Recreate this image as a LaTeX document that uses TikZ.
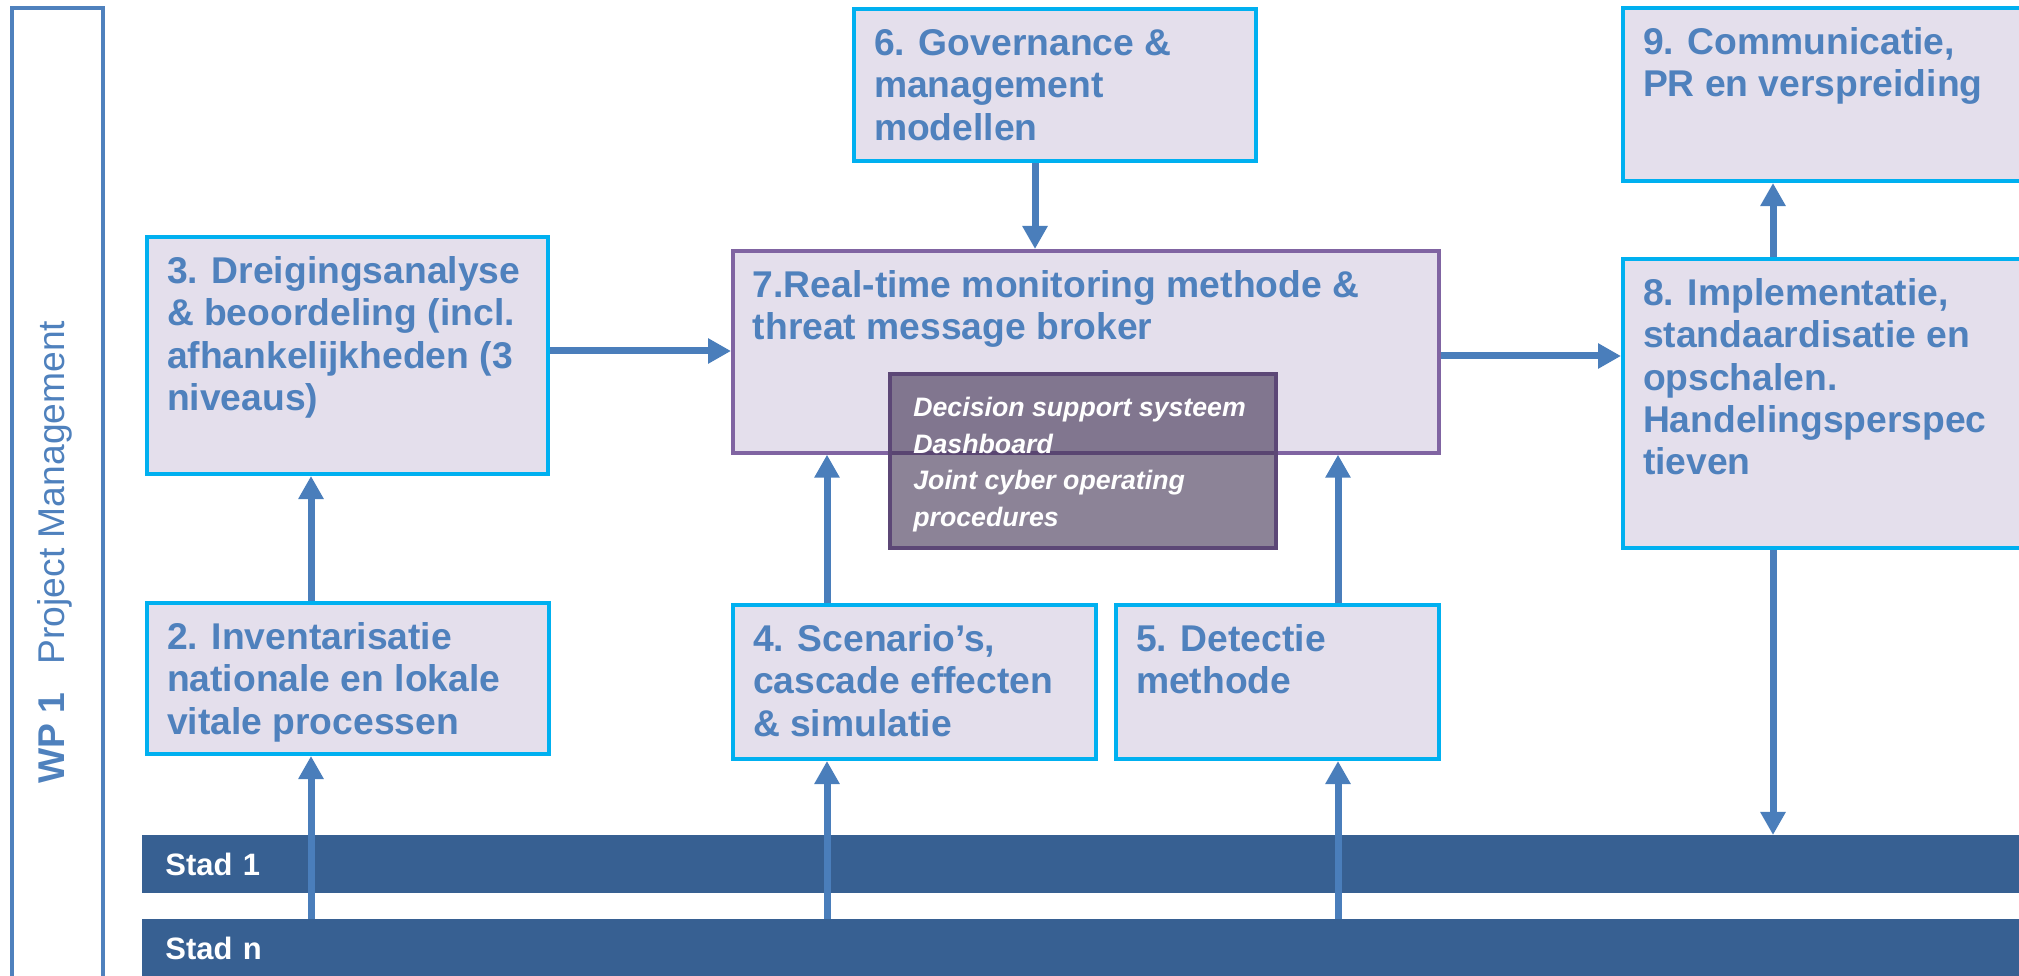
\documentclass[tikz,border=0pt]{standalone}
\usepackage{fontspec}
\setmainfont{Liberation Sans}
\usetikzlibrary{arrows.meta}

\definecolor{txtblue}{HTML}{4F81BD}
\definecolor{arrowblue}{HTML}{4A7EBB}
\definecolor{boxfill}{HTML}{E4DFEC}
\definecolor{cyanline}{HTML}{00B0F0}
\definecolor{purpleline}{HTML}{8064A2}
\definecolor{dssfill}{HTML}{3F3151}
\definecolor{dssline}{HTML}{5C4776}
\definecolor{stadblue}{HTML}{376092}

\newcommand{\boxtext}[3]{\parbox[c][#2][t]{#1}{\raggedright\strut#3}}

\begin{document}
\begin{tikzpicture}[x=0.015cm, y=-0.015cm, every node/.style={anchor=north west},
        wpbox/.style={draw=cyanline, line width=0.06cm, fill=boxfill,
                inner xsep=0.3cm, inner ysep=0.25cm, text=txtblue,
                font=\fontsize{15.9}{18.1}\selectfont\bfseries},
        rtbox/.style={wpbox, draw=purpleline, line width=0.055cm},
        dssbox/.style={draw=dssline, line width=0.06cm, fill=dssfill, fill opacity=0.6,
                text opacity=1, text=white, inner xsep=0.35cm, inner ysep=0.25cm,
                font=\fontsize{11.4}{15.7}\selectfont\bfseries\itshape},
        stadbar/.style={fill=stadblue, inner xsep=0.345cm, inner ysep=0, minimum height=0.87cm,
                text width=28.08cm, align=left, text=white,
                font=\fontsize{13.2}{15}\selectfont\bfseries},
        wpframe/.style={draw=txtblue, line width=0.06cm, minimum width=1.365cm,
                minimum height=15cm, inner sep=0},
        flow/.style={draw=arrowblue, line width=0.105cm, -{Triangle[length=0.345cm, width=0.36cm]}}]
    \clip (0,0) rectangle (2019,976);

    % work package frame
    \node[wpframe] (wp) at (10,6) {};
    \node[anchor=center, rotate=90, text=txtblue, font=\fontsize{15.9}{18}\selectfont] (wptext) at (55,552)
        {\textbf{WP 1}\hspace{0.75em}Project Management};

    % cities
    \node[stadbar] (stad1) at (142,835) {Stad 1};
    \node[stadbar] (stadn) at (142,919) {Stad n};

    % work packages
    \node[wpbox] (n2) at (145,601) {\boxtext{5.43cm}{1.765cm}{2. Inventarisatie\\nationale en lokale\\vitale processen}};
    \node[wpbox] (n3) at (145,235) {\boxtext{5.415cm}{3.055cm}{3. Dreigingsanalyse\\\& beoordeling (incl.\\afhankelijkheden (3\\niveaus)}};
    \node[wpbox] (n4) at (731,603) {\boxtext{4.845cm}{1.81cm}{4. Scenario’s,\\cascade effecten\\\& simulatie}};
    \node[wpbox] (n5) at (1114,603) {\boxtext{4.245cm}{1.81cm}{5. Detectie\\methode}};
    \node[wpbox] (n6) at (852,7) {\boxtext{5.43cm}{1.78cm}{6. Governance \&\\management\\modellen}};
    \node[rtbox] (n7) at (731,249) {\boxtext{9.99cm}{2.53cm}{7.Real-time monitoring methode \&\\threat message broker}};
    \node[wpbox] (n8) at (1621,257) {\boxtext{5.985cm}{3.835cm}{8. Implementatie,\\standaardisatie en\\opschalen.\\Handelingsperspec\\tieven}};
    \node[wpbox] (n9) at (1621,6) {\boxtext{5.985cm}{2.095cm}{9. Communicatie,\\PR en verspreiding}};
    \node[dssbox] (dss) at (888,372) {\boxtext{5.09cm}{2.11cm}{Decision support systeem\\Dashboard\\Joint cyber operating\\procedures}};

    % arrow lanes
    \coordinate (colA) at (311,0);
    \coordinate (colB) at (827,0);
    \coordinate (colC) at (1338,0);
    \coordinate (colD) at (1035,0);
    \coordinate (colE) at (1773,0);
    \coordinate (rowA) at (0,351);
    \coordinate (rowB) at (0,356);

    \draw[flow] (stadn.north -| colA) -- (n2.south -| colA);
    \draw[flow] (n2.north -| colA) -- (n3.south -| colA);
    \draw[flow] (stadn.north -| colB) -- (n4.south -| colB);
    \draw[flow] (n4.north -| colB) -- (n7.south -| colB);
    \draw[flow] (stadn.north -| colC) -- (n5.south -| colC);
    \draw[flow] (n5.north -| colC) -- (n7.south -| colC);
    \draw[flow] (n3.east |- rowA) -- (n7.west |- rowA);
    \draw[flow] (n6.south -| colD) -- (n7.north -| colD);
    \draw[flow] (n7.east |- rowB) -- (n8.west |- rowB);
    \draw[flow] (n8.north -| colE) -- (n9.south -| colE);
    \draw[flow] (n8.south -| colE) -- (stad1.north -| colE);
\end{tikzpicture}
\end{document}
